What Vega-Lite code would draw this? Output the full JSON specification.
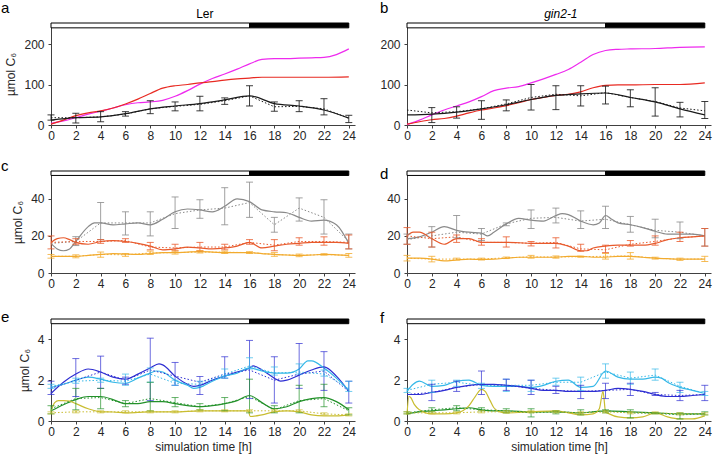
{
"$schema": "https://vega.github.io/schema/vega-lite/v6.json",
"autosize": {"type": "pad"},
"padding": {"left": 1, "top": 1, "right": 2, "bottom": 2},
"background": "white",
"columns": 2,
"bounds": "flush",
"spacing": {"row": 46, "column": 52},
"resolve": {"scale": {"x": "independent", "y": "independent"}},
"datasets": {
"bar": [{"x0": 0, "x1": 16, "ph": "light"}, {"x0": 16, "x1": 24, "ph": "dark"}],
"lab": [{"p":"a","letter":"a","head":"Ler"},{"p":"b","letter":"b","head":"gin2-1"},{"p":"c","letter":"c"},{"p":"d","letter":"d"},{"p":"e","letter":"e"},{"p":"f","letter":"f"}],
"line": [
{"p":"a","s":"M","t":0,"v":4},{"p":"a","s":"M","t":1,"v":10},{"p":"a","s":"M","t":2,"v":18},{"p":"a","s":"M","t":3,"v":27},{"p":"a","s":"M","t":4,"v":34},{"p":"a","s":"M","t":5,"v":42},{"p":"a","s":"M","t":6,"v":50},{"p":"a","s":"M","t":7,"v":55},{"p":"a","s":"M","t":8,"v":57},{"p":"a","s":"M","t":9,"v":61},{"p":"a","s":"M","t":10,"v":71},{"p":"a","s":"M","t":11,"v":85},{"p":"a","s":"M","t":12,"v":101},{"p":"a","s":"M","t":13,"v":115},{"p":"a","s":"M","t":14,"v":126},{"p":"a","s":"M","t":15,"v":138},{"p":"a","s":"M","t":16,"v":151},{"p":"a","s":"M","t":17,"v":162},{"p":"a","s":"M","t":18,"v":164},{"p":"a","s":"M","t":19,"v":164},{"p":"a","s":"M","t":20,"v":165},{"p":"a","s":"M","t":21,"v":166},{"p":"a","s":"M","t":22,"v":167},{"p":"a","s":"M","t":23,"v":174},{"p":"a","s":"M","t":24,"v":188},
{"p":"a","s":"R","t":0,"v":2},{"p":"a","s":"R","t":1,"v":12},{"p":"a","s":"R","t":2,"v":23},{"p":"a","s":"R","t":3,"v":30},{"p":"a","s":"R","t":4,"v":35},{"p":"a","s":"R","t":5,"v":42},{"p":"a","s":"R","t":6,"v":52},{"p":"a","s":"R","t":7,"v":64},{"p":"a","s":"R","t":8,"v":78},{"p":"a","s":"R","t":9,"v":91},{"p":"a","s":"R","t":10,"v":97},{"p":"a","s":"R","t":11,"v":100},{"p":"a","s":"R","t":12,"v":104},{"p":"a","s":"R","t":13,"v":107},{"p":"a","s":"R","t":14,"v":111},{"p":"a","s":"R","t":15,"v":114},{"p":"a","s":"R","t":16,"v":116},{"p":"a","s":"R","t":17,"v":118},{"p":"a","s":"R","t":18,"v":118},{"p":"a","s":"R","t":20,"v":118},{"p":"a","s":"R","t":22,"v":118},{"p":"a","s":"R","t":24,"v":119},
{"p":"a","s":"K","t":0,"v":12},{"p":"a","s":"K","t":2,"v":18},{"p":"a","s":"K","t":4,"v":20},{"p":"a","s":"K","t":6,"v":28},{"p":"a","s":"K","t":8,"v":40},{"p":"a","s":"K","t":10,"v":47},{"p":"a","s":"K","t":12,"v":53},{"p":"a","s":"K","t":14,"v":62},{"p":"a","s":"K","t":16,"v":72},{"p":"a","s":"K","t":18,"v":53},{"p":"a","s":"K","t":20,"v":47},{"p":"a","s":"K","t":22,"v":37},{"p":"a","s":"K","t":24,"v":17},
{"p":"b","s":"M","t":0,"v":1},{"p":"b","s":"M","t":1,"v":12},{"p":"b","s":"M","t":2,"v":25},{"p":"b","s":"M","t":3,"v":37},{"p":"b","s":"M","t":4,"v":47},{"p":"b","s":"M","t":5,"v":57},{"p":"b","s":"M","t":6,"v":70},{"p":"b","s":"M","t":7,"v":85},{"p":"b","s":"M","t":8,"v":91},{"p":"b","s":"M","t":9,"v":95},{"p":"b","s":"M","t":10,"v":104},{"p":"b","s":"M","t":11,"v":114},{"p":"b","s":"M","t":12,"v":125},{"p":"b","s":"M","t":13,"v":137},{"p":"b","s":"M","t":14,"v":155},{"p":"b","s":"M","t":15,"v":174},{"p":"b","s":"M","t":16,"v":184},{"p":"b","s":"M","t":17,"v":187},{"p":"b","s":"M","t":18,"v":188},{"p":"b","s":"M","t":20,"v":189},{"p":"b","s":"M","t":22,"v":192},{"p":"b","s":"M","t":24,"v":193},
{"p":"b","s":"R","t":0,"v":2},{"p":"b","s":"R","t":1,"v":8},{"p":"b","s":"R","t":2,"v":13},{"p":"b","s":"R","t":3,"v":16},{"p":"b","s":"R","t":4,"v":22},{"p":"b","s":"R","t":5,"v":30},{"p":"b","s":"R","t":6,"v":37},{"p":"b","s":"R","t":7,"v":42},{"p":"b","s":"R","t":8,"v":48},{"p":"b","s":"R","t":9,"v":55},{"p":"b","s":"R","t":10,"v":63},{"p":"b","s":"R","t":11,"v":68},{"p":"b","s":"R","t":12,"v":73},{"p":"b","s":"R","t":13,"v":76},{"p":"b","s":"R","t":14,"v":82},{"p":"b","s":"R","t":15,"v":92},{"p":"b","s":"R","t":16,"v":98},{"p":"b","s":"R","t":17,"v":99},{"p":"b","s":"R","t":18,"v":99},{"p":"b","s":"R","t":20,"v":100},{"p":"b","s":"R","t":22,"v":100},{"p":"b","s":"R","t":24,"v":104},
{"p":"b","s":"K","t":0,"v":25},{"p":"b","s":"K","t":2,"v":27},{"p":"b","s":"K","t":4,"v":32},{"p":"b","s":"K","t":6,"v":40},{"p":"b","s":"K","t":8,"v":50},{"p":"b","s":"K","t":10,"v":63},{"p":"b","s":"K","t":12,"v":73},{"p":"b","s":"K","t":14,"v":77},{"p":"b","s":"K","t":16,"v":79},{"p":"b","s":"K","t":18,"v":68},{"p":"b","s":"K","t":20,"v":57},{"p":"b","s":"K","t":22,"v":40},{"p":"b","s":"K","t":24,"v":25},
{"p":"c","s":"G","t":0,"v":16},{"p":"c","s":"G","t":0.5,"v":13},{"p":"c","s":"G","t":1,"v":12},{"p":"c","s":"G","t":1.5,"v":13},{"p":"c","s":"G","t":2,"v":17},{"p":"c","s":"G","t":3,"v":25},{"p":"c","s":"G","t":3.5,"v":27},{"p":"c","s":"G","t":4,"v":27},{"p":"c","s":"G","t":5,"v":26},{"p":"c","s":"G","t":6,"v":26.5},{"p":"c","s":"G","t":7,"v":27},{"p":"c","s":"G","t":8,"v":26},{"p":"c","s":"G","t":9,"v":29},{"p":"c","s":"G","t":10,"v":33},{"p":"c","s":"G","t":11,"v":34.5},{"p":"c","s":"G","t":12,"v":34},{"p":"c","s":"G","t":13,"v":33},{"p":"c","s":"G","t":14,"v":36},{"p":"c","s":"G","t":15,"v":40},{"p":"c","s":"G","t":16,"v":38.5},{"p":"c","s":"G","t":17,"v":34},{"p":"c","s":"G","t":18,"v":33},{"p":"c","s":"G","t":19,"v":32.5},{"p":"c","s":"G","t":20,"v":30},{"p":"c","s":"G","t":21,"v":28},{"p":"c","s":"G","t":22,"v":28.5},{"p":"c","s":"G","t":23,"v":26},{"p":"c","s":"G","t":24,"v":16},
{"p":"c","s":"O","t":0,"v":16.5},{"p":"c","s":"O","t":0.5,"v":18.5},{"p":"c","s":"O","t":1,"v":19},{"p":"c","s":"O","t":1.5,"v":18},{"p":"c","s":"O","t":2,"v":16.5},{"p":"c","s":"O","t":3,"v":15.5},{"p":"c","s":"O","t":4,"v":17},{"p":"c","s":"O","t":5,"v":17.5},{"p":"c","s":"O","t":6,"v":17},{"p":"c","s":"O","t":7,"v":16},{"p":"c","s":"O","t":8,"v":14.5},{"p":"c","s":"O","t":9,"v":12.5},{"p":"c","s":"O","t":10,"v":13},{"p":"c","s":"O","t":11,"v":14},{"p":"c","s":"O","t":12,"v":13.5},{"p":"c","s":"O","t":13,"v":13},{"p":"c","s":"O","t":14,"v":13.5},{"p":"c","s":"O","t":15,"v":14.5},{"p":"c","s":"O","t":16,"v":16.5},{"p":"c","s":"O","t":17,"v":13.5},{"p":"c","s":"O","t":18,"v":14.5},{"p":"c","s":"O","t":19,"v":15.5},{"p":"c","s":"O","t":20,"v":16},{"p":"c","s":"O","t":21,"v":16.5},{"p":"c","s":"O","t":22,"v":16.5},{"p":"c","s":"O","t":23,"v":16.5},{"p":"c","s":"O","t":24,"v":16},
{"p":"c","s":"Y","t":0,"v":9},{"p":"c","s":"Y","t":1,"v":9},{"p":"c","s":"Y","t":2,"v":9},{"p":"c","s":"Y","t":3,"v":9.5},{"p":"c","s":"Y","t":4,"v":10},{"p":"c","s":"Y","t":5,"v":10.5},{"p":"c","s":"Y","t":6,"v":10.2},{"p":"c","s":"Y","t":7,"v":10},{"p":"c","s":"Y","t":8,"v":10.5},{"p":"c","s":"Y","t":9,"v":11},{"p":"c","s":"Y","t":10,"v":11},{"p":"c","s":"Y","t":11,"v":11.3},{"p":"c","s":"Y","t":12,"v":11.5},{"p":"c","s":"Y","t":13,"v":11.3},{"p":"c","s":"Y","t":14,"v":11},{"p":"c","s":"Y","t":15,"v":11},{"p":"c","s":"Y","t":16,"v":11},{"p":"c","s":"Y","t":17,"v":10.5},{"p":"c","s":"Y","t":18,"v":10},{"p":"c","s":"Y","t":19,"v":9.7},{"p":"c","s":"Y","t":20,"v":9.5},{"p":"c","s":"Y","t":21,"v":9.7},{"p":"c","s":"Y","t":22,"v":10},{"p":"c","s":"Y","t":23,"v":9.8},{"p":"c","s":"Y","t":24,"v":9.5},
{"p":"d","s":"G","t":0,"v":18.5},{"p":"d","s":"G","t":1,"v":19.5},{"p":"d","s":"G","t":2,"v":22},{"p":"d","s":"G","t":3,"v":25},{"p":"d","s":"G","t":4,"v":23},{"p":"d","s":"G","t":5,"v":22},{"p":"d","s":"G","t":6,"v":21.5},{"p":"d","s":"G","t":6.5,"v":20},{"p":"d","s":"G","t":7,"v":22},{"p":"d","s":"G","t":8,"v":26.5},{"p":"d","s":"G","t":9,"v":29.5},{"p":"d","s":"G","t":10,"v":28.5},{"p":"d","s":"G","t":11,"v":28},{"p":"d","s":"G","t":12,"v":31},{"p":"d","s":"G","t":12.5,"v":32},{"p":"d","s":"G","t":13,"v":31.5},{"p":"d","s":"G","t":14,"v":28},{"p":"d","s":"G","t":15,"v":26},{"p":"d","s":"G","t":15.5,"v":27},{"p":"d","s":"G","t":16,"v":31},{"p":"d","s":"G","t":16.5,"v":29},{"p":"d","s":"G","t":17,"v":27},{"p":"d","s":"G","t":18,"v":26},{"p":"d","s":"G","t":19,"v":24.5},{"p":"d","s":"G","t":20,"v":22.5},{"p":"d","s":"G","t":21,"v":21},{"p":"d","s":"G","t":22,"v":21},{"p":"d","s":"G","t":23,"v":21},{"p":"d","s":"G","t":24,"v":20},
{"p":"d","s":"O","t":0,"v":20},{"p":"d","s":"O","t":0.5,"v":22},{"p":"d","s":"O","t":1,"v":22},{"p":"d","s":"O","t":2,"v":18.5},{"p":"d","s":"O","t":3,"v":15.5},{"p":"d","s":"O","t":4,"v":18.5},{"p":"d","s":"O","t":5,"v":18.5},{"p":"d","s":"O","t":6,"v":16.5},{"p":"d","s":"O","t":7,"v":16.5},{"p":"d","s":"O","t":8,"v":16.5},{"p":"d","s":"O","t":9,"v":16.3},{"p":"d","s":"O","t":10,"v":16},{"p":"d","s":"O","t":11,"v":16},{"p":"d","s":"O","t":12,"v":16},{"p":"d","s":"O","t":13,"v":14.5},{"p":"d","s":"O","t":14,"v":12},{"p":"d","s":"O","t":14.5,"v":12},{"p":"d","s":"O","t":15,"v":13.5},{"p":"d","s":"O","t":16,"v":14.5},{"p":"d","s":"O","t":17,"v":15},{"p":"d","s":"O","t":18,"v":15},{"p":"d","s":"O","t":19,"v":15},{"p":"d","s":"O","t":20,"v":16},{"p":"d","s":"O","t":21,"v":18},{"p":"d","s":"O","t":22,"v":19},{"p":"d","s":"O","t":23,"v":19.5},{"p":"d","s":"O","t":24,"v":20},
{"p":"d","s":"Y","t":0,"v":8},{"p":"d","s":"Y","t":1,"v":8},{"p":"d","s":"Y","t":2,"v":7.5},{"p":"d","s":"Y","t":3,"v":6.5},{"p":"d","s":"Y","t":4,"v":7},{"p":"d","s":"Y","t":5,"v":7.5},{"p":"d","s":"Y","t":6,"v":7.3},{"p":"d","s":"Y","t":7,"v":7.5},{"p":"d","s":"Y","t":8,"v":8},{"p":"d","s":"Y","t":9,"v":8.5},{"p":"d","s":"Y","t":10,"v":8.5},{"p":"d","s":"Y","t":11,"v":8.5},{"p":"d","s":"Y","t":12,"v":8.5},{"p":"d","s":"Y","t":13,"v":9},{"p":"d","s":"Y","t":14,"v":9},{"p":"d","s":"Y","t":15,"v":8.5},{"p":"d","s":"Y","t":16,"v":8.5},{"p":"d","s":"Y","t":17,"v":9},{"p":"d","s":"Y","t":18,"v":9},{"p":"d","s":"Y","t":19,"v":8.5},{"p":"d","s":"Y","t":20,"v":8},{"p":"d","s":"Y","t":21,"v":7.7},{"p":"d","s":"Y","t":22,"v":7.5},{"p":"d","s":"Y","t":23,"v":7.5},{"p":"d","s":"Y","t":24,"v":7.5},
{"p":"e","s":"B","t":0,"v":1.35},{"p":"e","s":"B","t":1,"v":1.9},{"p":"e","s":"B","t":2,"v":2.3},{"p":"e","s":"B","t":3,"v":2.55},{"p":"e","s":"B","t":4,"v":2.4},{"p":"e","s":"B","t":5,"v":2.15},{"p":"e","s":"B","t":6,"v":2.05},{"p":"e","s":"B","t":7,"v":2.3},{"p":"e","s":"B","t":8,"v":2.6},{"p":"e","s":"B","t":8.7,"v":2.8},{"p":"e","s":"B","t":9,"v":2.75},{"p":"e","s":"B","t":10,"v":2.2},{"p":"e","s":"B","t":11,"v":1.8},{"p":"e","s":"B","t":11.5,"v":1.7},{"p":"e","s":"B","t":12,"v":1.75},{"p":"e","s":"B","t":13,"v":2.0},{"p":"e","s":"B","t":14,"v":2.2},{"p":"e","s":"B","t":15,"v":2.4},{"p":"e","s":"B","t":16,"v":2.6},{"p":"e","s":"B","t":16.3,"v":2.7},{"p":"e","s":"B","t":17,"v":2.5},{"p":"e","s":"B","t":18,"v":2.1},{"p":"e","s":"B","t":18.5,"v":1.95},{"p":"e","s":"B","t":19,"v":2.0},{"p":"e","s":"B","t":20,"v":2.25},{"p":"e","s":"B","t":21,"v":2.5},{"p":"e","s":"B","t":22,"v":2.65},{"p":"e","s":"B","t":23,"v":2.2},{"p":"e","s":"B","t":24,"v":1.45},
{"p":"e","s":"C","t":0,"v":1.65},{"p":"e","s":"C","t":1,"v":1.8},{"p":"e","s":"C","t":2,"v":2.0},{"p":"e","s":"C","t":3,"v":2.15},{"p":"e","s":"C","t":4,"v":2.05},{"p":"e","s":"C","t":5,"v":1.9},{"p":"e","s":"C","t":6,"v":1.85},{"p":"e","s":"C","t":7,"v":2.1},{"p":"e","s":"C","t":8,"v":2.35},{"p":"e","s":"C","t":8.5,"v":2.45},{"p":"e","s":"C","t":9,"v":2.4},{"p":"e","s":"C","t":10,"v":2.0},{"p":"e","s":"C","t":11,"v":1.75},{"p":"e","s":"C","t":11.5,"v":1.6},{"p":"e","s":"C","t":12,"v":1.65},{"p":"e","s":"C","t":13,"v":1.95},{"p":"e","s":"C","t":14,"v":2.2},{"p":"e","s":"C","t":15,"v":2.35},{"p":"e","s":"C","t":16,"v":2.6},{"p":"e","s":"C","t":17,"v":2.45},{"p":"e","s":"C","t":18,"v":2.35},{"p":"e","s":"C","t":19,"v":2.35},{"p":"e","s":"C","t":20,"v":2.55},{"p":"e","s":"C","t":20.7,"v":2.95},{"p":"e","s":"C","t":21,"v":2.95},{"p":"e","s":"C","t":22,"v":2.6},{"p":"e","s":"C","t":23,"v":2.1},{"p":"e","s":"C","t":24,"v":1.5},
{"p":"e","s":"N","t":0,"v":0.5},{"p":"e","s":"N","t":1,"v":0.8},{"p":"e","s":"N","t":2,"v":1.05},{"p":"e","s":"N","t":3,"v":1.2},{"p":"e","s":"N","t":4,"v":1.2},{"p":"e","s":"N","t":5,"v":1.05},{"p":"e","s":"N","t":6,"v":0.85},{"p":"e","s":"N","t":7,"v":0.85},{"p":"e","s":"N","t":8,"v":0.95},{"p":"e","s":"N","t":9,"v":0.95},{"p":"e","s":"N","t":10,"v":0.85},{"p":"e","s":"N","t":11,"v":0.75},{"p":"e","s":"N","t":12,"v":0.7},{"p":"e","s":"N","t":13,"v":0.75},{"p":"e","s":"N","t":14,"v":0.85},{"p":"e","s":"N","t":15,"v":1.0},{"p":"e","s":"N","t":16,"v":1.25},{"p":"e","s":"N","t":17,"v":0.9},{"p":"e","s":"N","t":18,"v":0.6},{"p":"e","s":"N","t":19,"v":0.7},{"p":"e","s":"N","t":20,"v":0.95},{"p":"e","s":"N","t":21,"v":1.1},{"p":"e","s":"N","t":22,"v":1.15},{"p":"e","s":"N","t":23,"v":0.95},{"p":"e","s":"N","t":24,"v":0.55},
{"p":"e","s":"L","t":0,"v":0.5},{"p":"e","s":"L","t":0.3,"v":0.9},{"p":"e","s":"L","t":0.6,"v":1.0},{"p":"e","s":"L","t":1,"v":1.0},{"p":"e","s":"L","t":1.5,"v":0.97},{"p":"e","s":"L","t":2,"v":0.85},{"p":"e","s":"L","t":3,"v":0.6},{"p":"e","s":"L","t":4,"v":0.45},{"p":"e","s":"L","t":5,"v":0.44},{"p":"e","s":"L","t":6,"v":0.4},{"p":"e","s":"L","t":7,"v":0.42},{"p":"e","s":"L","t":8,"v":0.45},{"p":"e","s":"L","t":9,"v":0.45},{"p":"e","s":"L","t":10,"v":0.45},{"p":"e","s":"L","t":12,"v":0.5},{"p":"e","s":"L","t":14,"v":0.5},{"p":"e","s":"L","t":15.9,"v":0.5},{"p":"e","s":"L","t":16.05,"v":0.22},{"p":"e","s":"L","t":17,"v":0.3},{"p":"e","s":"L","t":18,"v":0.45},{"p":"e","s":"L","t":19,"v":0.5},{"p":"e","s":"L","t":20,"v":0.45},{"p":"e","s":"L","t":21,"v":0.3},{"p":"e","s":"L","t":22,"v":0.25},{"p":"e","s":"L","t":23,"v":0.25},{"p":"e","s":"L","t":24,"v":0.3},
{"p":"f","s":"C","t":0,"v":1.45},{"p":"f","s":"C","t":0.5,"v":1.8},{"p":"f","s":"C","t":1,"v":1.95},{"p":"f","s":"C","t":2,"v":1.7},{"p":"f","s":"C","t":3,"v":1.75},{"p":"f","s":"C","t":4,"v":1.95},{"p":"f","s":"C","t":5,"v":2.0},{"p":"f","s":"C","t":6,"v":1.75},{"p":"f","s":"C","t":7,"v":1.7},{"p":"f","s":"C","t":8,"v":1.7},{"p":"f","s":"C","t":9,"v":1.7},{"p":"f","s":"C","t":10,"v":1.65},{"p":"f","s":"C","t":11,"v":1.75},{"p":"f","s":"C","t":12,"v":1.95},{"p":"f","s":"C","t":13,"v":2.0},{"p":"f","s":"C","t":14,"v":1.65},{"p":"f","s":"C","t":15,"v":1.7},{"p":"f","s":"C","t":16,"v":2.45},{"p":"f","s":"C","t":17,"v":2.15},{"p":"f","s":"C","t":18,"v":2.05},{"p":"f","s":"C","t":19,"v":2.05},{"p":"f","s":"C","t":20,"v":2.15},{"p":"f","s":"C","t":20.5,"v":2.1},{"p":"f","s":"C","t":21,"v":1.9},{"p":"f","s":"C","t":22,"v":1.65},{"p":"f","s":"C","t":23,"v":1.5},{"p":"f","s":"C","t":24,"v":1.35},
{"p":"f","s":"B","t":0,"v":1.3},{"p":"f","s":"B","t":1,"v":1.3},{"p":"f","s":"B","t":2,"v":1.4},{"p":"f","s":"B","t":3,"v":1.5},{"p":"f","s":"B","t":4,"v":1.65},{"p":"f","s":"B","t":5,"v":1.75},{"p":"f","s":"B","t":6,"v":1.8},{"p":"f","s":"B","t":7,"v":1.8},{"p":"f","s":"B","t":8,"v":1.75},{"p":"f","s":"B","t":9,"v":1.7},{"p":"f","s":"B","t":10,"v":1.6},{"p":"f","s":"B","t":11,"v":1.5},{"p":"f","s":"B","t":12,"v":1.5},{"p":"f","s":"B","t":13,"v":1.45},{"p":"f","s":"B","t":14,"v":1.45},{"p":"f","s":"B","t":15,"v":1.45},{"p":"f","s":"B","t":16,"v":1.5},{"p":"f","s":"B","t":17,"v":1.6},{"p":"f","s":"B","t":18,"v":1.55},{"p":"f","s":"B","t":19,"v":1.45},{"p":"f","s":"B","t":20,"v":1.3},{"p":"f","s":"B","t":21,"v":1.2},{"p":"f","s":"B","t":22,"v":1.2},{"p":"f","s":"B","t":23,"v":1.25},{"p":"f","s":"B","t":24,"v":1.3},
{"p":"f","s":"N","t":0,"v":0.35},{"p":"f","s":"N","t":1,"v":0.45},{"p":"f","s":"N","t":2,"v":0.5},{"p":"f","s":"N","t":3,"v":0.55},{"p":"f","s":"N","t":4,"v":0.6},{"p":"f","s":"N","t":5,"v":0.65},{"p":"f","s":"N","t":6,"v":0.55},{"p":"f","s":"N","t":7,"v":0.5},{"p":"f","s":"N","t":8,"v":0.5},{"p":"f","s":"N","t":10,"v":0.45},{"p":"f","s":"N","t":12,"v":0.45},{"p":"f","s":"N","t":14,"v":0.4},{"p":"f","s":"N","t":15,"v":0.45},{"p":"f","s":"N","t":16,"v":0.5},{"p":"f","s":"N","t":18,"v":0.45},{"p":"f","s":"N","t":20,"v":0.4},{"p":"f","s":"N","t":22,"v":0.35},{"p":"f","s":"N","t":24,"v":0.35},
{"p":"f","s":"L","t":0,"v":0.3},{"p":"f","s":"L","t":0.15,"v":1.2},{"p":"f","s":"L","t":0.3,"v":1.15},{"p":"f","s":"L","t":0.6,"v":0.8},{"p":"f","s":"L","t":1,"v":0.55},{"p":"f","s":"L","t":1.5,"v":0.4},{"p":"f","s":"L","t":2,"v":0.35},{"p":"f","s":"L","t":3,"v":0.35},{"p":"f","s":"L","t":4,"v":0.4},{"p":"f","s":"L","t":4.5,"v":0.5},{"p":"f","s":"L","t":5,"v":0.75},{"p":"f","s":"L","t":5.5,"v":1.2},{"p":"f","s":"L","t":6,"v":1.55},{"p":"f","s":"L","t":6.3,"v":1.45},{"p":"f","s":"L","t":6.7,"v":1.0},{"p":"f","s":"L","t":7,"v":0.65},{"p":"f","s":"L","t":7.5,"v":0.45},{"p":"f","s":"L","t":8,"v":0.4},{"p":"f","s":"L","t":10,"v":0.45},{"p":"f","s":"L","t":12,"v":0.5},{"p":"f","s":"L","t":13,"v":0.4},{"p":"f","s":"L","t":14,"v":0.3},{"p":"f","s":"L","t":15,"v":0.35},{"p":"f","s":"L","t":15.5,"v":0.6},{"p":"f","s":"L","t":15.8,"v":1.45},{"p":"f","s":"L","t":16,"v":0.45},{"p":"f","s":"L","t":16.3,"v":0.35},{"p":"f","s":"L","t":17,"v":0.2},{"p":"f","s":"L","t":18,"v":0.15},{"p":"f","s":"L","t":19,"v":0.2},{"p":"f","s":"L","t":20,"v":0.4},{"p":"f","s":"L","t":21,"v":0.2},{"p":"f","s":"L","t":22,"v":0.1},{"p":"f","s":"L","t":23,"v":0.1},{"p":"f","s":"L","t":24,"v":0.25}
],
"obs": [
{"p":"a","s":"K","t":0,"m":18,"lo":12,"hi":25},{"p":"a","s":"K","t":2,"m":18,"lo":5,"hi":29},{"p":"a","s":"K","t":4,"m":20,"lo":8,"hi":33},{"p":"a","s":"K","t":6,"m":27,"lo":22,"hi":33},{"p":"a","s":"K","t":8,"m":40,"lo":28,"hi":60},{"p":"a","s":"K","t":10,"m":46,"lo":35,"hi":57},{"p":"a","s":"K","t":12,"m":51,"lo":35,"hi":71},{"p":"a","s":"K","t":14,"m":60,"lo":51,"hi":67},{"p":"a","s":"K","t":16,"m":72,"lo":47,"hi":97},{"p":"a","s":"K","t":18,"m":45,"lo":34,"hi":57},{"p":"a","s":"K","t":20,"m":46,"lo":33,"hi":60},{"p":"a","s":"K","t":22,"m":40,"lo":25,"hi":65},{"p":"a","s":"K","t":24,"m":17,"lo":6,"hi":24},
{"p":"b","s":"K","t":0,"m":37,"lo":null,"hi":null},{"p":"b","s":"K","t":2,"m":30,"lo":6,"hi":43},{"p":"b","s":"K","t":4,"m":33,"lo":17,"hi":45},{"p":"b","s":"K","t":6,"m":40,"lo":14,"hi":60},{"p":"b","s":"K","t":8,"m":52,"lo":35,"hi":62},{"p":"b","s":"K","t":10,"m":68,"lo":37,"hi":100},{"p":"b","s":"K","t":12,"m":76,"lo":38,"hi":97},{"p":"b","s":"K","t":14,"m":72,"lo":47,"hi":97},{"p":"b","s":"K","t":16,"m":80,"lo":52,"hi":96},{"p":"b","s":"K","t":18,"m":68,"lo":45,"hi":87},{"p":"b","s":"K","t":20,"m":58,"lo":22,"hi":92},{"p":"b","s":"K","t":22,"m":42,"lo":20,"hi":56},{"p":"b","s":"K","t":24,"m":35,"lo":16,"hi":58},
{"p":"c","s":"G","t":0,"m":16,"lo":null,"hi":null},{"p":"c","s":"G","t":2,"m":17,"lo":14.8,"hi":19.6},{"p":"c","s":"G","t":4,"m":27,"lo":18,"hi":38},{"p":"c","s":"G","t":6,"m":27,"lo":20.5,"hi":33},{"p":"c","s":"G","t":8,"m":27,"lo":20,"hi":33},{"p":"c","s":"G","t":10,"m":32,"lo":24,"hi":41},{"p":"c","s":"G","t":12,"m":34,"lo":29.5,"hi":39.5},{"p":"c","s":"G","t":14,"m":35,"lo":26,"hi":46},{"p":"c","s":"G","t":16,"m":38,"lo":30,"hi":49},{"p":"c","s":"G","t":18,"m":26,"lo":22,"hi":30},{"p":"c","s":"G","t":20,"m":35,"lo":28,"hi":40.5},{"p":"c","s":"G","t":22,"m":30,"lo":21,"hi":39.5},{"p":"c","s":"G","t":24,"m":17,"lo":13,"hi":21},
{"p":"c","s":"O","t":0,"m":16.5,"lo":13,"hi":20},{"p":"c","s":"O","t":2,"m":17,"lo":15.5,"hi":18.5},{"p":"c","s":"O","t":4,"m":17,"lo":16,"hi":18},{"p":"c","s":"O","t":6,"m":17.5,"lo":16.5,"hi":18.5},{"p":"c","s":"O","t":8,"m":14,"lo":12.5,"hi":16.5},{"p":"c","s":"O","t":10,"m":13.5,"lo":12,"hi":15.5},{"p":"c","s":"O","t":12,"m":14,"lo":12,"hi":16.5},{"p":"c","s":"O","t":14,"m":14,"lo":12.5,"hi":15.5},{"p":"c","s":"O","t":16,"m":16.5,"lo":15.5,"hi":18},{"p":"c","s":"O","t":18,"m":15,"lo":12,"hi":18},{"p":"c","s":"O","t":20,"m":17,"lo":15,"hi":19},{"p":"c","s":"O","t":22,"m":17,"lo":15,"hi":19.5},{"p":"c","s":"O","t":24,"m":16.5,"lo":13,"hi":20.5},
{"p":"c","s":"Y","t":0,"m":9,"lo":8,"hi":10},{"p":"c","s":"Y","t":2,"m":9,"lo":8.2,"hi":9.8},{"p":"c","s":"Y","t":4,"m":10,"lo":8.5,"hi":11.3},{"p":"c","s":"Y","t":6,"m":9.8,"lo":9,"hi":10.5},{"p":"c","s":"Y","t":8,"m":10.8,"lo":10,"hi":11.8},{"p":"c","s":"Y","t":10,"m":11,"lo":10.2,"hi":11.8},{"p":"c","s":"Y","t":12,"m":11.3,"lo":10.8,"hi":12},{"p":"c","s":"Y","t":14,"m":11.2,"lo":10.5,"hi":11.8},{"p":"c","s":"Y","t":16,"m":11,"lo":10.5,"hi":11.5},{"p":"c","s":"Y","t":18,"m":10,"lo":9,"hi":11},{"p":"c","s":"Y","t":20,"m":9.5,"lo":8.8,"hi":10.2},{"p":"c","s":"Y","t":22,"m":10,"lo":9.6,"hi":10.4},{"p":"c","s":"Y","t":24,"m":9.5,"lo":8.5,"hi":10.5},
{"p":"d","s":"G","t":0,"m":18,"lo":15.5,"hi":21},{"p":"d","s":"G","t":2,"m":20,"lo":14,"hi":25},{"p":"d","s":"G","t":4,"m":22,"lo":19,"hi":31},{"p":"d","s":"G","t":6,"m":21,"lo":17.5,"hi":24},{"p":"d","s":"G","t":8,"m":26.5,"lo":25.5,"hi":27},{"p":"d","s":"G","t":10,"m":29.5,"lo":24,"hi":34},{"p":"d","s":"G","t":12,"m":30,"lo":27,"hi":35},{"p":"d","s":"G","t":14,"m":28,"lo":24,"hi":33.5},{"p":"d","s":"G","t":16,"m":29,"lo":24,"hi":36},{"p":"d","s":"G","t":18,"m":26,"lo":22,"hi":30.5},{"p":"d","s":"G","t":20,"m":23,"lo":19,"hi":29},{"p":"d","s":"G","t":22,"m":22,"lo":18.5,"hi":27.5},{"p":"d","s":"G","t":24,"m":20,"lo":14.5,"hi":24},
{"p":"d","s":"O","t":0,"m":20,"lo":15.5,"hi":24.5},{"p":"d","s":"O","t":2,"m":18.5,"lo":14,"hi":22},{"p":"d","s":"O","t":4,"m":19.5,"lo":16.5,"hi":20.5},{"p":"d","s":"O","t":6,"m":16.5,"lo":15,"hi":18.5},{"p":"d","s":"O","t":8,"m":16.5,"lo":14,"hi":19.5},{"p":"d","s":"O","t":10,"m":16,"lo":14.6,"hi":17},{"p":"d","s":"O","t":12,"m":16.5,"lo":13.5,"hi":19},{"p":"d","s":"O","t":14,"m":13,"lo":11.7,"hi":15.5},{"p":"d","s":"O","t":16,"m":12.5,"lo":11,"hi":15},{"p":"d","s":"O","t":18,"m":15.5,"lo":14.5,"hi":17.5},{"p":"d","s":"O","t":20,"m":17,"lo":15,"hi":20},{"p":"d","s":"O","t":22,"m":19,"lo":17,"hi":22},{"p":"d","s":"O","t":24,"m":20,"lo":14.5,"hi":24},
{"p":"d","s":"Y","t":0,"m":8,"lo":6.5,"hi":9.5},{"p":"d","s":"Y","t":2,"m":7.5,"lo":6,"hi":9},{"p":"d","s":"Y","t":4,"m":7.5,"lo":7,"hi":8},{"p":"d","s":"Y","t":6,"m":7.5,"lo":7,"hi":8},{"p":"d","s":"Y","t":8,"m":8.2,"lo":7.8,"hi":8.6},{"p":"d","s":"Y","t":10,"m":8.7,"lo":8,"hi":9.5},{"p":"d","s":"Y","t":12,"m":8.6,"lo":8,"hi":9.2},{"p":"d","s":"Y","t":14,"m":8.8,"lo":8.5,"hi":9.1},{"p":"d","s":"Y","t":16,"m":9,"lo":7.5,"hi":10.5},{"p":"d","s":"Y","t":18,"m":9.2,"lo":7.5,"hi":11},{"p":"d","s":"Y","t":20,"m":8,"lo":7.5,"hi":8.5},{"p":"d","s":"Y","t":22,"m":7.4,"lo":6.8,"hi":8},{"p":"d","s":"Y","t":24,"m":7.6,"lo":6.2,"hi":9},
{"p":"e","s":"B","t":0,"m":1.6,"lo":1.3,"hi":1.95},{"p":"e","s":"B","t":2,"m":2.0,"lo":1.2,"hi":3.06},{"p":"e","s":"B","t":4,"m":2.4,"lo":1.6,"hi":3.18},{"p":"e","s":"B","t":6,"m":2.0,"lo":1.8,"hi":2.15},{"p":"e","s":"B","t":8,"m":2.5,"lo":1.0,"hi":4.06},{"p":"e","s":"B","t":10,"m":2.2,"lo":1.75,"hi":2.87},{"p":"e","s":"B","t":12,"m":1.9,"lo":1.3,"hi":2.18},{"p":"e","s":"B","t":14,"m":2.3,"lo":2.1,"hi":3.15},{"p":"e","s":"B","t":16,"m":2.5,"lo":1.1,"hi":3.95},{"p":"e","s":"B","t":18,"m":2.0,"lo":0.88,"hi":3.15},{"p":"e","s":"B","t":20,"m":2.3,"lo":1.6,"hi":3.8},{"p":"e","s":"B","t":22,"m":2.45,"lo":1.5,"hi":3.4},{"p":"e","s":"B","t":24,"m":1.45,"lo":0.88,"hi":1.95},
{"p":"e","s":"C","t":0,"m":1.7,"lo":1.6,"hi":1.8},{"p":"e","s":"C","t":2,"m":1.95,"lo":1.85,"hi":2.1},{"p":"e","s":"C","t":4,"m":2.0,"lo":1.9,"hi":2.1},{"p":"e","s":"C","t":6,"m":1.95,"lo":1.75,"hi":2.3},{"p":"e","s":"C","t":8,"m":2.3,"lo":1.9,"hi":2.6},{"p":"e","s":"C","t":10,"m":1.85,"lo":1.75,"hi":2.0},{"p":"e","s":"C","t":12,"m":1.8,"lo":1.7,"hi":1.95},{"p":"e","s":"C","t":14,"m":2.3,"lo":2.1,"hi":2.55},{"p":"e","s":"C","t":16,"m":2.7,"lo":2.55,"hi":3.1},{"p":"e","s":"C","t":18,"m":2.35,"lo":2.25,"hi":2.65},{"p":"e","s":"C","t":20,"m":2.4,"lo":2.3,"hi":2.8},{"p":"e","s":"C","t":22,"m":2.3,"lo":2.2,"hi":2.5},{"p":"e","s":"C","t":24,"m":1.6,"lo":1.45,"hi":1.95},
{"p":"e","s":"N","t":0,"m":0.6,"lo":0.35,"hi":0.75},{"p":"e","s":"N","t":2,"m":1.1,"lo":0.55,"hi":1.6},{"p":"e","s":"N","t":4,"m":1.15,"lo":0.6,"hi":1.6},{"p":"e","s":"N","t":6,"m":0.85,"lo":0.7,"hi":1.0},{"p":"e","s":"N","t":8,"m":1.1,"lo":0.5,"hi":1.9},{"p":"e","s":"N","t":10,"m":0.9,"lo":0.7,"hi":1.15},{"p":"e","s":"N","t":12,"m":0.7,"lo":0.55,"hi":0.85},{"p":"e","s":"N","t":14,"m":0.85,"lo":0.5,"hi":1.15},{"p":"e","s":"N","t":16,"m":1.2,"lo":0.4,"hi":2.05},{"p":"e","s":"N","t":18,"m":0.55,"lo":0.4,"hi":0.75},{"p":"e","s":"N","t":20,"m":1.0,"lo":0.4,"hi":1.75},{"p":"e","s":"N","t":22,"m":1.1,"lo":0.7,"hi":1.8},{"p":"e","s":"N","t":24,"m":0.5,"lo":0.3,"hi":0.65},
{"p":"e","s":"L","t":0,"m":0.4,"lo":0.35,"hi":0.45},{"p":"e","s":"L","t":2,"m":0.45,"lo":0.4,"hi":0.5},{"p":"e","s":"L","t":4,"m":0.45,"lo":0.4,"hi":0.5},{"p":"e","s":"L","t":6,"m":0.45,"lo":0.4,"hi":0.5},{"p":"e","s":"L","t":8,"m":0.45,"lo":0.4,"hi":0.5},{"p":"e","s":"L","t":10,"m":0.45,"lo":0.4,"hi":0.5},{"p":"e","s":"L","t":12,"m":0.5,"lo":0.45,"hi":0.55},{"p":"e","s":"L","t":14,"m":0.5,"lo":0.45,"hi":0.55},{"p":"e","s":"L","t":16,"m":0.5,"lo":0.45,"hi":0.55},{"p":"e","s":"L","t":18,"m":0.5,"lo":0.45,"hi":0.55},{"p":"e","s":"L","t":20,"m":0.5,"lo":0.45,"hi":0.55},{"p":"e","s":"L","t":22,"m":0.35,"lo":0.3,"hi":0.4},{"p":"e","s":"L","t":24,"m":0.3,"lo":0.25,"hi":0.35},
{"p":"f","s":"C","t":0,"m":1.5,"lo":1.4,"hi":1.6},{"p":"f","s":"C","t":2,"m":1.8,"lo":1.4,"hi":2.0},{"p":"f","s":"C","t":4,"m":1.9,"lo":1.7,"hi":2.0},{"p":"f","s":"C","t":6,"m":1.75,"lo":1.6,"hi":1.85},{"p":"f","s":"C","t":8,"m":1.75,"lo":1.45,"hi":2.05},{"p":"f","s":"C","t":10,"m":1.75,"lo":1.45,"hi":2.0},{"p":"f","s":"C","t":12,"m":1.9,"lo":1.75,"hi":2.1},{"p":"f","s":"C","t":14,"m":1.9,"lo":1.5,"hi":2.15},{"p":"f","s":"C","t":16,"m":2.4,"lo":2.1,"hi":2.8},{"p":"f","s":"C","t":18,"m":2.1,"lo":1.8,"hi":2.4},{"p":"f","s":"C","t":20,"m":2.25,"lo":2.0,"hi":2.55},{"p":"f","s":"C","t":22,"m":1.7,"lo":1.4,"hi":1.9},{"p":"f","s":"C","t":24,"m":1.35,"lo":1.25,"hi":1.45},
{"p":"f","s":"B","t":0,"m":1.3,"lo":null,"hi":null},{"p":"f","s":"B","t":2,"m":1.4,"lo":1.0,"hi":1.8},{"p":"f","s":"B","t":4,"m":1.65,"lo":1.45,"hi":1.95},{"p":"f","s":"B","t":6,"m":1.8,"lo":1.3,"hi":2.45},{"p":"f","s":"B","t":8,"m":1.75,"lo":1.5,"hi":2.05},{"p":"f","s":"B","t":10,"m":1.6,"lo":1.3,"hi":2.0},{"p":"f","s":"B","t":12,"m":1.5,"lo":1.35,"hi":1.7},{"p":"f","s":"B","t":14,"m":1.45,"lo":1.1,"hi":1.75},{"p":"f","s":"B","t":16,"m":1.5,"lo":1.1,"hi":1.85},{"p":"f","s":"B","t":18,"m":1.55,"lo":1.25,"hi":1.85},{"p":"f","s":"B","t":20,"m":1.3,"lo":1.25,"hi":1.4},{"p":"f","s":"B","t":22,"m":1.25,"lo":1.0,"hi":1.5},{"p":"f","s":"B","t":24,"m":1.3,"lo":1.0,"hi":1.75},
{"p":"f","s":"N","t":0,"m":0.4,"lo":0.35,"hi":0.45},{"p":"f","s":"N","t":2,"m":0.55,"lo":0.45,"hi":0.65},{"p":"f","s":"N","t":4,"m":0.65,"lo":0.5,"hi":0.75},{"p":"f","s":"N","t":6,"m":0.55,"lo":0.5,"hi":0.65},{"p":"f","s":"N","t":8,"m":0.5,"lo":0.4,"hi":0.6},{"p":"f","s":"N","t":10,"m":0.4,"lo":0.2,"hi":0.6},{"p":"f","s":"N","t":12,"m":0.45,"lo":0.35,"hi":0.5},{"p":"f","s":"N","t":14,"m":0.4,"lo":0.3,"hi":0.55},{"p":"f","s":"N","t":16,"m":0.5,"lo":0.4,"hi":0.55},{"p":"f","s":"N","t":18,"m":0.4,"lo":0.15,"hi":0.55},{"p":"f","s":"N","t":20,"m":0.38,"lo":0.35,"hi":0.4},{"p":"f","s":"N","t":22,"m":0.3,"lo":0.1,"hi":0.4},{"p":"f","s":"N","t":24,"m":0.35,"lo":0.3,"hi":0.45},
{"p":"f","s":"L","t":0,"m":0.4,"lo":0.35,"hi":0.45},{"p":"f","s":"L","t":2,"m":0.4,"lo":0.35,"hi":0.45},{"p":"f","s":"L","t":4,"m":0.4,"lo":0.35,"hi":0.45},{"p":"f","s":"L","t":6,"m":0.45,"lo":0.4,"hi":0.5},{"p":"f","s":"L","t":8,"m":0.45,"lo":0.4,"hi":0.5},{"p":"f","s":"L","t":10,"m":0.45,"lo":0.4,"hi":0.5},{"p":"f","s":"L","t":12,"m":0.45,"lo":0.4,"hi":0.5},{"p":"f","s":"L","t":14,"m":0.4,"lo":0.35,"hi":0.45},{"p":"f","s":"L","t":16,"m":0.45,"lo":0.4,"hi":0.5},{"p":"f","s":"L","t":18,"m":0.4,"lo":0.35,"hi":0.45},{"p":"f","s":"L","t":20,"m":0.4,"lo":0.35,"hi":0.45},{"p":"f","s":"L","t":22,"m":0.35,"lo":0.3,"hi":0.4},{"p":"f","s":"L","t":24,"m":0.35,"lo":0.3,"hi":0.4}
]
},
"concat": [
{"width": 304, "height": 102, "layer": [
 {"data": {"name": "bar"}, "mark": {"type": "rect", "stroke": "#000000", "strokeWidth": 1},
  "encoding": {"x": {"field": "x0", "type": "quantitative", "scale": {"domain": [0, 24.5], "nice": false}, "axis": {"values": [0,2,4,6,8,10,12,14,16,18,20,22,24], "labelOverlap": false, "title": null}}, "x2": {"field": "x1"},
   "y": {"datum": 240, "type": "quantitative", "scale": {"domain": [0, 252], "nice": false}, "axis": {"values": [0,100,200], "title": "µmol C₆"}}, "y2": {"datum": 252},
   "fill": {"field": "ph", "type": "nominal", "scale": {"domain": ["light","dark"], "range": ["#ffffff","#000000"]}, "legend": null}}},
 {"data": {"name": "line"}, "transform": [{"filter": "datum.p == 'a'"}], "mark": {"type": "line", "interpolate": "monotone", "strokeWidth": 1.2},
  "encoding": {"x": {"field": "t", "type": "quantitative", "axis": {"values": [0,2,4,6,8,10,12,14,16,18,20,22,24], "labelOverlap": false, "title": null}}, "y": {"field": "v", "type": "quantitative", "axis": {"values": [0,100,200], "title": "µmol C₆"}}, "color": {"field": "s", "type": "nominal", "legend": null, "scale": {"domain": ["K","M","R","G","O","Y","B","C","N","L"], "range": ["#1a1a1a","#ee2aee","#e82a22","#8a8a8a","#e85a2c","#f2ab2e","#2e2ed2","#35b8e8","#23912a","#c9bd30"]}}}},
 {"data": {"name": "obs"}, "transform": [{"filter": "datum.p == 'a'"}],
  "encoding": {"x": {"field": "t", "type": "quantitative", "axis": {"values": [0,2,4,6,8,10,12,14,16,18,20,22,24], "labelOverlap": false, "title": null}}, "color": {"field": "s", "type": "nominal", "legend": null, "scale": {"domain": ["K","M","R","G","O","Y","B","C","N","L"], "range": ["#1a1a1a","#ee2aee","#e82a22","#8a8a8a","#e85a2c","#f2ab2e","#2e2ed2","#35b8e8","#23912a","#c9bd30"]}}},
  "layer": [
   {"mark": {"type": "line", "strokeDash": [1.5, 2], "strokeWidth": 1}, "encoding": {"y": {"field": "m", "type": "quantitative", "axis": {"values": [0,100,200], "title": "µmol C₆"}}}},
   {"mark": {"type": "rule", "strokeWidth": 1, "opacity": 0.85}, "encoding": {"y": {"field": "lo", "type": "quantitative", "axis": {"values": [0,100,200], "title": "µmol C₆"}}, "y2": {"field": "hi"}}},
   {"mark": {"type": "tick", "orient": "horizontal", "size": 7, "thickness": 1, "opacity": 0.85}, "encoding": {"y": {"field": "lo", "type": "quantitative", "axis": {"values": [0,100,200], "title": "µmol C₆"}}}},
   {"mark": {"type": "tick", "orient": "horizontal", "size": 7, "thickness": 1, "opacity": 0.85}, "encoding": {"y": {"field": "hi", "type": "quantitative", "axis": {"values": [0,100,200], "title": "µmol C₆"}}}}
  ]},
 {"data": {"name": "lab"}, "transform": [{"filter": "datum.p == 'a'"}], "layer": [
   {"mark": {"type": "text", "align": "left", "baseline": "alphabetic", "dx": -50, "dy": -10, "fontSize": 15, "color": "#000000"}, "encoding": {"x": {"datum": 0, "axis": {"values": [0,2,4,6,8,10,12,14,16,18,20,22,24], "labelOverlap": false, "title": null}}, "y": {"datum": 252, "axis": {"values": [0,100,200], "title": "µmol C₆"}}, "text": {"field": "letter"}}},
   {"mark": {"type": "text", "align": "center", "baseline": "alphabetic", "dy": -5, "fontSize": 12, "color": "#000000"}, "encoding": {"x": {"datum": 12.4, "axis": {"values": [0,2,4,6,8,10,12,14,16,18,20,22,24], "labelOverlap": false, "title": null}}, "y": {"datum": 252, "axis": {"values": [0,100,200], "title": "µmol C₆"}}, "text": {"field": "head"}}}
 ]}
]},
{"width": 304, "height": 102, "layer": [
 {"data": {"name": "bar"}, "mark": {"type": "rect", "stroke": "#000000", "strokeWidth": 1},
  "encoding": {"x": {"field": "x0", "type": "quantitative", "scale": {"domain": [0, 24.5], "nice": false}, "axis": {"values": [0,2,4,6,8,10,12,14,16,18,20,22,24], "labelOverlap": false, "title": null}}, "x2": {"field": "x1"},
   "y": {"datum": 240, "type": "quantitative", "scale": {"domain": [0, 252], "nice": false}, "axis": {"values": [0,100,200], "title": null}}, "y2": {"datum": 252},
   "fill": {"field": "ph", "type": "nominal", "scale": {"domain": ["light","dark"], "range": ["#ffffff","#000000"]}, "legend": null}}},
 {"data": {"name": "line"}, "transform": [{"filter": "datum.p == 'b'"}], "mark": {"type": "line", "interpolate": "monotone", "strokeWidth": 1.2},
  "encoding": {"x": {"field": "t", "type": "quantitative", "axis": {"values": [0,2,4,6,8,10,12,14,16,18,20,22,24], "labelOverlap": false, "title": null}}, "y": {"field": "v", "type": "quantitative", "axis": {"values": [0,100,200], "title": null}}, "color": {"field": "s", "type": "nominal", "legend": null, "scale": {"domain": ["K","M","R","G","O","Y","B","C","N","L"], "range": ["#1a1a1a","#ee2aee","#e82a22","#8a8a8a","#e85a2c","#f2ab2e","#2e2ed2","#35b8e8","#23912a","#c9bd30"]}}}},
 {"data": {"name": "obs"}, "transform": [{"filter": "datum.p == 'b'"}],
  "encoding": {"x": {"field": "t", "type": "quantitative", "axis": {"values": [0,2,4,6,8,10,12,14,16,18,20,22,24], "labelOverlap": false, "title": null}}, "color": {"field": "s", "type": "nominal", "legend": null, "scale": {"domain": ["K","M","R","G","O","Y","B","C","N","L"], "range": ["#1a1a1a","#ee2aee","#e82a22","#8a8a8a","#e85a2c","#f2ab2e","#2e2ed2","#35b8e8","#23912a","#c9bd30"]}}},
  "layer": [
   {"mark": {"type": "line", "strokeDash": [1.5, 2], "strokeWidth": 1}, "encoding": {"y": {"field": "m", "type": "quantitative", "axis": {"values": [0,100,200], "title": null}}}},
   {"mark": {"type": "rule", "strokeWidth": 1, "opacity": 0.85}, "encoding": {"y": {"field": "lo", "type": "quantitative", "axis": {"values": [0,100,200], "title": null}}, "y2": {"field": "hi"}}},
   {"mark": {"type": "tick", "orient": "horizontal", "size": 7, "thickness": 1, "opacity": 0.85}, "encoding": {"y": {"field": "lo", "type": "quantitative", "axis": {"values": [0,100,200], "title": null}}}},
   {"mark": {"type": "tick", "orient": "horizontal", "size": 7, "thickness": 1, "opacity": 0.85}, "encoding": {"y": {"field": "hi", "type": "quantitative", "axis": {"values": [0,100,200], "title": null}}}}
  ]},
 {"data": {"name": "lab"}, "transform": [{"filter": "datum.p == 'b'"}], "layer": [
   {"mark": {"type": "text", "align": "left", "baseline": "alphabetic", "dx": -27, "dy": -10, "fontSize": 15, "color": "#000000"}, "encoding": {"x": {"datum": 0, "axis": {"values": [0,2,4,6,8,10,12,14,16,18,20,22,24], "labelOverlap": false, "title": null}}, "y": {"datum": 252, "axis": {"values": [0,100,200], "title": null}}, "text": {"field": "letter"}}},
   {"mark": {"type": "text", "align": "center", "baseline": "alphabetic", "dy": -5, "fontSize": 12, "fontStyle": "italic", "color": "#000000"}, "encoding": {"x": {"datum": 12.4, "axis": {"values": [0,2,4,6,8,10,12,14,16,18,20,22,24], "labelOverlap": false, "title": null}}, "y": {"datum": 252, "axis": {"values": [0,100,200], "title": null}}, "text": {"field": "head"}}}
 ]}
]},
{"width": 304, "height": 102, "layer": [
 {"data": {"name": "bar"}, "mark": {"type": "rect", "stroke": "#000000", "strokeWidth": 1},
  "encoding": {"x": {"field": "x0", "type": "quantitative", "scale": {"domain": [0, 24.5], "nice": false}, "axis": {"values": [0,2,4,6,8,10,12,14,16,18,20,22,24], "labelOverlap": false, "title": null}}, "x2": {"field": "x1"},
   "y": {"datum": 52.6, "type": "quantitative", "scale": {"domain": [0, 55], "nice": false}, "axis": {"values": [0,20,40], "title": "µmol C₆"}}, "y2": {"datum": 55},
   "fill": {"field": "ph", "type": "nominal", "scale": {"domain": ["light","dark"], "range": ["#ffffff","#000000"]}, "legend": null}}},
 {"data": {"name": "line"}, "transform": [{"filter": "datum.p == 'c'"}], "mark": {"type": "line", "interpolate": "monotone", "strokeWidth": 1.2},
  "encoding": {"x": {"field": "t", "type": "quantitative", "axis": {"values": [0,2,4,6,8,10,12,14,16,18,20,22,24], "labelOverlap": false, "title": null}}, "y": {"field": "v", "type": "quantitative", "axis": {"values": [0,20,40], "title": "µmol C₆"}}, "color": {"field": "s", "type": "nominal", "legend": null, "scale": {"domain": ["K","M","R","G","O","Y","B","C","N","L"], "range": ["#1a1a1a","#ee2aee","#e82a22","#8a8a8a","#e85a2c","#f2ab2e","#2e2ed2","#35b8e8","#23912a","#c9bd30"]}}}},
 {"data": {"name": "obs"}, "transform": [{"filter": "datum.p == 'c'"}],
  "encoding": {"x": {"field": "t", "type": "quantitative", "axis": {"values": [0,2,4,6,8,10,12,14,16,18,20,22,24], "labelOverlap": false, "title": null}}, "color": {"field": "s", "type": "nominal", "legend": null, "scale": {"domain": ["K","M","R","G","O","Y","B","C","N","L"], "range": ["#1a1a1a","#ee2aee","#e82a22","#8a8a8a","#e85a2c","#f2ab2e","#2e2ed2","#35b8e8","#23912a","#c9bd30"]}}},
  "layer": [
   {"mark": {"type": "line", "strokeDash": [1.5, 2], "strokeWidth": 1}, "encoding": {"y": {"field": "m", "type": "quantitative", "axis": {"values": [0,20,40], "title": "µmol C₆"}}}},
   {"mark": {"type": "rule", "strokeWidth": 1, "opacity": 0.8}, "encoding": {"y": {"field": "lo", "type": "quantitative", "axis": {"values": [0,20,40], "title": "µmol C₆"}}, "y2": {"field": "hi"}}},
   {"mark": {"type": "tick", "orient": "horizontal", "size": 7, "thickness": 1, "opacity": 0.8}, "encoding": {"y": {"field": "lo", "type": "quantitative", "axis": {"values": [0,20,40], "title": "µmol C₆"}}}},
   {"mark": {"type": "tick", "orient": "horizontal", "size": 7, "thickness": 1, "opacity": 0.8}, "encoding": {"y": {"field": "hi", "type": "quantitative", "axis": {"values": [0,20,40], "title": "µmol C₆"}}}}
  ]},
 {"data": {"name": "lab"}, "transform": [{"filter": "datum.p == 'c'"}],
   "mark": {"type": "text", "align": "left", "baseline": "alphabetic", "dx": -50, "dy": 0, "fontSize": 15, "color": "#000000"}, "encoding": {"x": {"datum": 0, "axis": {"values": [0,2,4,6,8,10,12,14,16,18,20,22,24], "labelOverlap": false, "title": null}}, "y": {"datum": 55, "axis": {"values": [0,20,40], "title": "µmol C₆"}}, "text": {"field": "letter"}}}
]},
{"width": 304, "height": 102, "layer": [
 {"data": {"name": "bar"}, "mark": {"type": "rect", "stroke": "#000000", "strokeWidth": 1},
  "encoding": {"x": {"field": "x0", "type": "quantitative", "scale": {"domain": [0, 24.5], "nice": false}, "axis": {"values": [0,2,4,6,8,10,12,14,16,18,20,22,24], "labelOverlap": false, "title": null}}, "x2": {"field": "x1"},
   "y": {"datum": 52.6, "type": "quantitative", "scale": {"domain": [0, 55], "nice": false}, "axis": {"values": [0,20,40], "title": null}}, "y2": {"datum": 55},
   "fill": {"field": "ph", "type": "nominal", "scale": {"domain": ["light","dark"], "range": ["#ffffff","#000000"]}, "legend": null}}},
 {"data": {"name": "line"}, "transform": [{"filter": "datum.p == 'd'"}], "mark": {"type": "line", "interpolate": "monotone", "strokeWidth": 1.2},
  "encoding": {"x": {"field": "t", "type": "quantitative", "axis": {"values": [0,2,4,6,8,10,12,14,16,18,20,22,24], "labelOverlap": false, "title": null}}, "y": {"field": "v", "type": "quantitative", "axis": {"values": [0,20,40], "title": null}}, "color": {"field": "s", "type": "nominal", "legend": null, "scale": {"domain": ["K","M","R","G","O","Y","B","C","N","L"], "range": ["#1a1a1a","#ee2aee","#e82a22","#8a8a8a","#e85a2c","#f2ab2e","#2e2ed2","#35b8e8","#23912a","#c9bd30"]}}}},
 {"data": {"name": "obs"}, "transform": [{"filter": "datum.p == 'd'"}],
  "encoding": {"x": {"field": "t", "type": "quantitative", "axis": {"values": [0,2,4,6,8,10,12,14,16,18,20,22,24], "labelOverlap": false, "title": null}}, "color": {"field": "s", "type": "nominal", "legend": null, "scale": {"domain": ["K","M","R","G","O","Y","B","C","N","L"], "range": ["#1a1a1a","#ee2aee","#e82a22","#8a8a8a","#e85a2c","#f2ab2e","#2e2ed2","#35b8e8","#23912a","#c9bd30"]}}},
  "layer": [
   {"mark": {"type": "line", "strokeDash": [1.5, 2], "strokeWidth": 1}, "encoding": {"y": {"field": "m", "type": "quantitative", "axis": {"values": [0,20,40], "title": null}}}},
   {"mark": {"type": "rule", "strokeWidth": 1, "opacity": 0.8}, "encoding": {"y": {"field": "lo", "type": "quantitative", "axis": {"values": [0,20,40], "title": null}}, "y2": {"field": "hi"}}},
   {"mark": {"type": "tick", "orient": "horizontal", "size": 7, "thickness": 1, "opacity": 0.8}, "encoding": {"y": {"field": "lo", "type": "quantitative", "axis": {"values": [0,20,40], "title": null}}}},
   {"mark": {"type": "tick", "orient": "horizontal", "size": 7, "thickness": 1, "opacity": 0.8}, "encoding": {"y": {"field": "hi", "type": "quantitative", "axis": {"values": [0,20,40], "title": null}}}}
  ]},
 {"data": {"name": "lab"}, "transform": [{"filter": "datum.p == 'd'"}],
   "mark": {"type": "text", "align": "left", "baseline": "alphabetic", "dx": -27, "dy": 8, "fontSize": 15, "color": "#000000"}, "encoding": {"x": {"datum": 0, "axis": {"values": [0,2,4,6,8,10,12,14,16,18,20,22,24], "labelOverlap": false, "title": null}}, "y": {"datum": 55, "axis": {"values": [0,20,40], "title": null}}, "text": {"field": "letter"}}}
]},
{"width": 304, "height": 102, "layer": [
 {"data": {"name": "bar"}, "mark": {"type": "rect", "stroke": "#000000", "strokeWidth": 1},
  "encoding": {"x": {"field": "x0", "type": "quantitative", "scale": {"domain": [0, 24.5], "nice": false}, "axis": {"values": [0,2,4,6,8,10,12,14,16,18,20,22,24], "labelOverlap": false, "title": "simulation time [h]"}}, "x2": {"field": "x1"},
   "y": {"datum": 4.77, "type": "quantitative", "scale": {"domain": [0, 5], "nice": false}, "axis": {"values": [0,2,4], "title": "µmol C₆"}}, "y2": {"datum": 5},
   "fill": {"field": "ph", "type": "nominal", "scale": {"domain": ["light","dark"], "range": ["#ffffff","#000000"]}, "legend": null}}},
 {"data": {"name": "line"}, "transform": [{"filter": "datum.p == 'e'"}], "mark": {"type": "line", "interpolate": "monotone", "strokeWidth": 1.2},
  "encoding": {"x": {"field": "t", "type": "quantitative", "axis": {"values": [0,2,4,6,8,10,12,14,16,18,20,22,24], "labelOverlap": false, "title": "simulation time [h]"}}, "y": {"field": "v", "type": "quantitative", "axis": {"values": [0,2,4], "title": "µmol C₆"}}, "color": {"field": "s", "type": "nominal", "legend": null, "scale": {"domain": ["K","M","R","G","O","Y","B","C","N","L"], "range": ["#1a1a1a","#ee2aee","#e82a22","#8a8a8a","#e85a2c","#f2ab2e","#2e2ed2","#35b8e8","#23912a","#c9bd30"]}}}},
 {"data": {"name": "obs"}, "transform": [{"filter": "datum.p == 'e'"}],
  "encoding": {"x": {"field": "t", "type": "quantitative", "axis": {"values": [0,2,4,6,8,10,12,14,16,18,20,22,24], "labelOverlap": false, "title": "simulation time [h]"}}, "color": {"field": "s", "type": "nominal", "legend": null, "scale": {"domain": ["K","M","R","G","O","Y","B","C","N","L"], "range": ["#1a1a1a","#ee2aee","#e82a22","#8a8a8a","#e85a2c","#f2ab2e","#2e2ed2","#35b8e8","#23912a","#c9bd30"]}}},
  "layer": [
   {"mark": {"type": "line", "strokeDash": [1.5, 2], "strokeWidth": 1}, "encoding": {"y": {"field": "m", "type": "quantitative", "axis": {"values": [0,2,4], "title": "µmol C₆"}}}},
   {"mark": {"type": "rule", "strokeWidth": 1, "opacity": 0.7}, "encoding": {"y": {"field": "lo", "type": "quantitative", "axis": {"values": [0,2,4], "title": "µmol C₆"}}, "y2": {"field": "hi"}}},
   {"mark": {"type": "tick", "orient": "horizontal", "size": 7, "thickness": 1, "opacity": 0.7}, "encoding": {"y": {"field": "lo", "type": "quantitative", "axis": {"values": [0,2,4], "title": "µmol C₆"}}}},
   {"mark": {"type": "tick", "orient": "horizontal", "size": 7, "thickness": 1, "opacity": 0.7}, "encoding": {"y": {"field": "hi", "type": "quantitative", "axis": {"values": [0,2,4], "title": "µmol C₆"}}}}
  ]},
 {"data": {"name": "lab"}, "transform": [{"filter": "datum.p == 'e'"}],
   "mark": {"type": "text", "align": "left", "baseline": "alphabetic", "dx": -50, "dy": 3, "fontSize": 15, "color": "#000000"}, "encoding": {"x": {"datum": 0, "axis": {"values": [0,2,4,6,8,10,12,14,16,18,20,22,24], "labelOverlap": false, "title": "simulation time [h]"}}, "y": {"datum": 5, "axis": {"values": [0,2,4], "title": "µmol C₆"}}, "text": {"field": "letter"}}}
]},
{"width": 304, "height": 102, "layer": [
 {"data": {"name": "bar"}, "mark": {"type": "rect", "stroke": "#000000", "strokeWidth": 1},
  "encoding": {"x": {"field": "x0", "type": "quantitative", "scale": {"domain": [0, 24.5], "nice": false}, "axis": {"values": [0,2,4,6,8,10,12,14,16,18,20,22,24], "labelOverlap": false, "title": "simulation time [h]"}}, "x2": {"field": "x1"},
   "y": {"datum": 4.77, "type": "quantitative", "scale": {"domain": [0, 5], "nice": false}, "axis": {"values": [0,2,4], "title": null}}, "y2": {"datum": 5},
   "fill": {"field": "ph", "type": "nominal", "scale": {"domain": ["light","dark"], "range": ["#ffffff","#000000"]}, "legend": null}}},
 {"data": {"name": "line"}, "transform": [{"filter": "datum.p == 'f'"}], "mark": {"type": "line", "interpolate": "monotone", "strokeWidth": 1.2},
  "encoding": {"x": {"field": "t", "type": "quantitative", "axis": {"values": [0,2,4,6,8,10,12,14,16,18,20,22,24], "labelOverlap": false, "title": "simulation time [h]"}}, "y": {"field": "v", "type": "quantitative", "axis": {"values": [0,2,4], "title": null}}, "color": {"field": "s", "type": "nominal", "legend": null, "scale": {"domain": ["K","M","R","G","O","Y","B","C","N","L"], "range": ["#1a1a1a","#ee2aee","#e82a22","#8a8a8a","#e85a2c","#f2ab2e","#2e2ed2","#35b8e8","#23912a","#c9bd30"]}}}},
 {"data": {"name": "obs"}, "transform": [{"filter": "datum.p == 'f'"}],
  "encoding": {"x": {"field": "t", "type": "quantitative", "axis": {"values": [0,2,4,6,8,10,12,14,16,18,20,22,24], "labelOverlap": false, "title": "simulation time [h]"}}, "color": {"field": "s", "type": "nominal", "legend": null, "scale": {"domain": ["K","M","R","G","O","Y","B","C","N","L"], "range": ["#1a1a1a","#ee2aee","#e82a22","#8a8a8a","#e85a2c","#f2ab2e","#2e2ed2","#35b8e8","#23912a","#c9bd30"]}}},
  "layer": [
   {"mark": {"type": "line", "strokeDash": [1.5, 2], "strokeWidth": 1}, "encoding": {"y": {"field": "m", "type": "quantitative", "axis": {"values": [0,2,4], "title": null}}}},
   {"mark": {"type": "rule", "strokeWidth": 1, "opacity": 0.7}, "encoding": {"y": {"field": "lo", "type": "quantitative", "axis": {"values": [0,2,4], "title": null}}, "y2": {"field": "hi"}}},
   {"mark": {"type": "tick", "orient": "horizontal", "size": 7, "thickness": 1, "opacity": 0.7}, "encoding": {"y": {"field": "lo", "type": "quantitative", "axis": {"values": [0,2,4], "title": null}}}},
   {"mark": {"type": "tick", "orient": "horizontal", "size": 7, "thickness": 1, "opacity": 0.7}, "encoding": {"y": {"field": "hi", "type": "quantitative", "axis": {"values": [0,2,4], "title": null}}}}
  ]},
 {"data": {"name": "lab"}, "transform": [{"filter": "datum.p == 'f'"}],
   "mark": {"type": "text", "align": "left", "baseline": "alphabetic", "dx": -27, "dy": 4, "fontSize": 15, "color": "#000000"}, "encoding": {"x": {"datum": 0, "axis": {"values": [0,2,4,6,8,10,12,14,16,18,20,22,24], "labelOverlap": false, "title": "simulation time [h]"}}, "y": {"datum": 5, "axis": {"values": [0,2,4], "title": null}}, "text": {"field": "letter"}}}
]}
],
"config": {
 "view": {"stroke": null},
 "font": "Liberation Sans",
 "text": {"font": "Liberation Sans"},
 "axis": {"grid": false, "domainColor": "#404040", "domainWidth": 1, "tickColor": "#404040", "tickSize": 3, "labelColor": "#262626", "labelFont": "Liberation Sans", "labelFontSize": 12, "titleFont": "Liberation Sans", "titleFontSize": 12, "titleFontWeight": "normal", "titleColor": "#262626", "labelFlush": false, "labelOverlap": false},
 "axisX": {"labelPadding": 2, "titlePadding": 4},
 "axisY": {"labelPadding": 4, "titlePadding": 6}
}
}
